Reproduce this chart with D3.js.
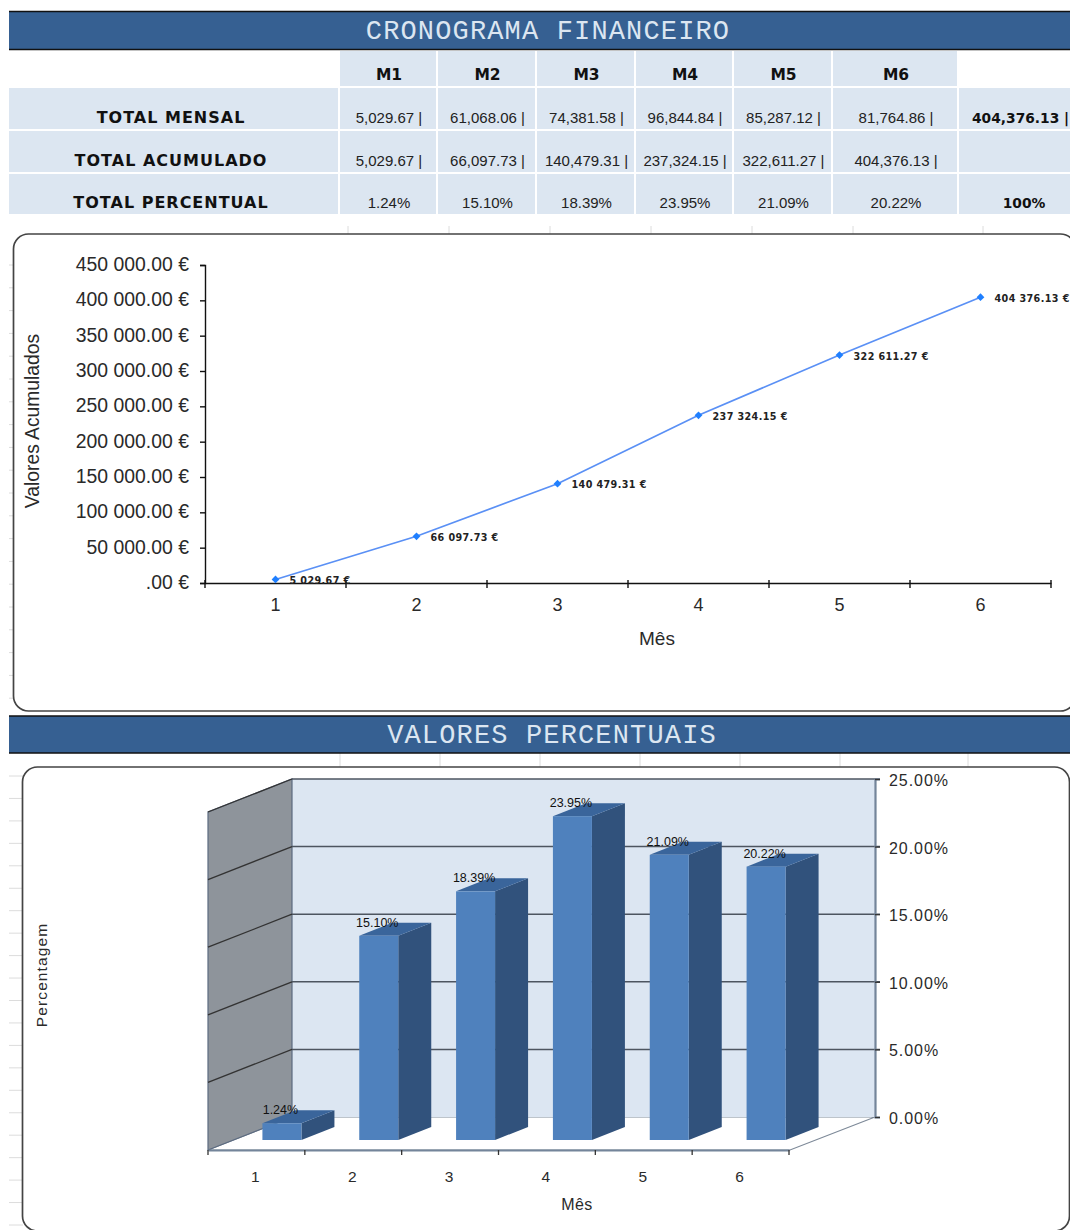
<!DOCTYPE html>
<html><head><meta charset="utf-8">
<script src="https://cdnjs.cloudflare.com/ajax/libs/d3/7.8.5/d3.min.js"></script>
<style>html,body{margin:0;padding:0;background:#fff;overflow:hidden}svg{display:block}text{font-family:"Liberation Sans",Arial,sans-serif}</style>
</head><body><svg id="c" width="1070" height="1230"></svg>
<script>
const months = [1,2,3,4,5,6];
const monthHeaders = ["M1","M2","M3","M4","M5","M6"];
const rowLabels = ["TOTAL MENSAL","TOTAL ACUMULADO","TOTAL PERCENTUAL"];
const totalMensal = ["5,029.67 |","61,068.06 |","74,381.58 |","96,844.84 |","85,287.12 |","81,764.86 |"];
const totalAcumulado = ["5,029.67 |","66,097.73 |","140,479.31 |","237,324.15 |","322,611.27 |","404,376.13 |"];
const totalPercentual = ["1.24%","15.10%","18.39%","23.95%","21.09%","20.22%"];
const grandTotals = ["404,376.13 |","","100%"];
const accumulated = [5029.67,66097.73,140479.31,237324.15,322611.27,404376.13];
const percentages = [1.24,15.10,18.39,23.95,21.09,20.22];
const titleTop = "CRONOGRAMA FINANCEIRO";
const titleBottom = "VALORES PERCENTUAIS";
const accTicks = d3.range(0,450001,50000);
const pctTicks = [0,5,10,15,20,25];

const svg = d3.select("#c");
const ink = "#2a2a2a";
const cellBg = "#dce6f1", headBg = "#366092";

// faint spreadsheet remnants
const faint = svg.append("g").attr("stroke","#dcdcdc").attr("stroke-width",1);
d3.range(265,710,22.8).forEach(y=>faint.append("line").attr("x1",9).attr("x2",14).attr("y1",y).attr("y2",y));
d3.range(776,1230,22.45).forEach(y=>faint.append("line").attr("x1",9).attr("x2",23).attr("y1",y).attr("y2",y));
[348,449,550,651,752,853,983].forEach(x=>faint.append("line").attr("x1",x).attr("x2",x).attr("y1",226).attr("y2",234));
[340,440,540,640,740,840,968].forEach(x=>faint.append("line").attr("x1",x).attr("x2",x).attr("y1",753).attr("y2",767));

function banner(y0,y1,title,cx){
  svg.append("rect").attr("x",9).attr("y",y0).attr("width",1061).attr("height",y1-y0).attr("fill",headBg);
  svg.append("line").attr("x1",9).attr("x2",1070).attr("y1",y0).attr("y2",y0).attr("stroke","#111").attr("stroke-width",1.4);
  svg.append("line").attr("x1",9).attr("x2",1070).attr("y1",y1).attr("y2",y1).attr("stroke","#111").attr("stroke-width",1.4);
  svg.append("text").attr("x",cx).attr("y",(y0+y1)/2+8.5).attr("text-anchor","middle")
    .style("font-family",'"Liberation Mono",monospace').style("font-size","27px").style("letter-spacing","1.15px")
    .attr("fill","#dce6f1").text(title);
}
banner(11.5,49.5,titleTop,548);
banner(716,753,titleBottom,552);

// table
const colX = [[340,436],[438,535],[537,634],[636,732],[734,831],[833,957]];
const totalCol = [959,1070];
const rowY = [[88,129],[131,172],[174,214]];
const rowData = [totalMensal,totalAcumulado,totalPercentual];
const bold = "'DejaVu Sans',sans-serif";
const tbl = svg.append("g");
function cell(a,b,c,d){tbl.append("rect").attr("x",a).attr("y",c).attr("width",b-a).attr("height",d-c).attr("fill",cellBg);}
colX.forEach((c,i)=>{
  cell(c[0],c[1],51,86);
  tbl.append("text").attr("x",(c[0]+c[1])/2+1).attr("y",80).attr("text-anchor","middle").attr("fill","#111")
    .style("font-family",bold).style("font-weight","bold").style("font-size","15.5px").text(monthHeaders[i]);
});
rowY.forEach((r,j)=>{
  cell(9,338,r[0],r[1]);
  tbl.append("text").attr("x",171).attr("y",r[1]-6).attr("text-anchor","middle").attr("fill","#111")
    .style("font-family",bold).style("font-weight","bold").style("font-size","16px").style("letter-spacing","1px").text(rowLabels[j]);
  colX.forEach((c,i)=>{
    cell(c[0],c[1],r[0],r[1]);
    tbl.append("text").attr("x",(c[0]+c[1])/2+1).attr("y",r[1]-6).attr("text-anchor","middle").attr("fill","#222")
      .style("font-size","15px").text(rowData[j][i]);
  });
  cell(totalCol[0],totalCol[1],r[0],r[1]);
  tbl.append("text").attr("x",j==2?1024:972).attr("y",r[1]-6).attr("text-anchor",j==2?"middle":"start").attr("fill","#111")
    .style("font-family",bold).style("font-weight","bold").style("font-size","13.8px").text(grandTotals[j]);
});

// line chart frame
svg.append("rect").attr("x",13.5).attr("y",234).attr("width",1062).attr("height",477).attr("rx",15)
  .attr("fill","#fff").attr("stroke","#444").attr("stroke-width",1.7);

const xL = d3.scaleBand().domain(months).range([205,1051]);
const yL = d3.scaleLinear().domain([0,450000]).range([583,265]);
const fmtAcc = d3.formatLocale({decimal:".",thousands:" ",grouping:[3],currency:["","€"]}).format(",.2f");
const euro = v => v===0 ? ".00 €" : fmtAcc(v)+" €";

const gY = svg.append("g").attr("transform","translate(205,0)")
  .call(d3.axisLeft(yL).tickValues(accTicks).tickSize(5).tickPadding(11).tickFormat(euro));
gY.select(".domain").attr("stroke","#111").attr("stroke-width",1.4);
gY.selectAll("line").attr("stroke","#111").attr("stroke-width",1.4);
gY.selectAll("text").style("font-size","19.4px").attr("fill",ink).attr("dy","0.28em");

const gX = svg.append("g").attr("transform","translate(0,583)")
  .call(d3.axisBottom(xL).tickSize(0).tickPadding(15));
gX.select(".domain").attr("stroke","#111").attr("stroke-width",1.4);
gX.selectAll("text").style("font-size","18px").attr("fill",ink);
d3.range(0,months.length+1).forEach(i=>{
  const x = xL.range()[0]+i*xL.step();
  gX.append("line").attr("x1",x).attr("x2",x).attr("y1",-3).attr("y2",5).attr("stroke","#111").attr("stroke-width",1.4);
});

svg.append("path").datum(accumulated)
  .attr("d",d3.line().x((d,i)=>xL(months[i])+xL.bandwidth()/2).y(d=>yL(d)))
  .attr("fill","none").attr("stroke","#5a90f5").attr("stroke-width",1.7);
svg.append("g").selectAll("path").data(accumulated).join("path")
  .attr("d",d3.symbol(d3.symbolSquare,30))
  .attr("transform",(d,i)=>`translate(${xL(months[i])+xL.bandwidth()/2},${yL(d)}) rotate(45)`)
  .attr("fill","#1f7fff");
svg.append("g").selectAll("text").data(accumulated).join("text")
  .attr("x",(d,i)=>xL(months[i])+xL.bandwidth()/2+14)
  .attr("y",d=>yL(d)+4.5)
  .style("font-family",bold).style("font-weight","bold").style("font-size","9.6px").style("letter-spacing","0.4px").attr("fill","#222")
  .text(d=>euro(d));

svg.append("text").attr("transform","translate(39,421) rotate(-90)").attr("text-anchor","middle")
  .style("font-size","19.3px").attr("fill",ink).text("Valores Acumulados");
svg.append("text").attr("x",657).attr("y",645).attr("text-anchor","middle")
  .style("font-size","19px").attr("fill",ink).text("Mês");

// 3D bar chart frame
svg.append("rect").attr("x",22.5).attr("y",767).attr("width",1047).attr("height",464).attr("rx",15)
  .attr("fill","#fff").attr("stroke","#444").attr("stroke-width",1.7);

const depthX = 84, depthY = 33;       // wall depth
const barDX = 33, barDY = 13;         // bar depth
const xB = d3.scaleBand().domain(months).range([208,789]);
const yWall = d3.scaleLinear().domain([0,25]).range([1150,812]); // front plane
const barBase = 1140, barShift = 25.5, barW = 39;
const yBar = d3.scaleLinear().domain([0,25]).range([barBase,barBase-338]);
const backX0 = xB.range()[0]+depthX, backX1 = xB.range()[1]+depthX+2;

const b = svg.append("g");
b.append("path").attr("d",`M208,1150 L${backX0},${yWall(0)-depthY} L${backX1},${yWall(0)-depthY} L${xB.range()[1]+1},1150 Z`)
  .attr("fill","#fff").attr("stroke","#7d8998").attr("stroke-width",1.2);
b.append("rect").attr("x",backX0).attr("y",yWall(25)-depthY).attr("width",backX1-backX0).attr("height",yWall(0)-yWall(25))
  .attr("fill","#dce6f2");
b.append("path").attr("d",`M208,${yWall(0)} L${backX0},${yWall(0)-depthY} L${backX0},${yWall(25)-depthY} L208,${yWall(25)} Z`)
  .attr("fill","#8e949b").attr("stroke","#5c6b80").attr("stroke-width",1.2);
pctTicks.forEach(t=>{
  if(t>0) b.append("line").attr("x1",backX0).attr("x2",backX1+5).attr("y1",yWall(t)-depthY).attr("y2",yWall(t)-depthY).attr("stroke","#4d5560").attr("stroke-width",1.5);
  if(t>0) b.append("line").attr("x1",208).attr("x2",backX0).attr("y1",yWall(t)).attr("y2",yWall(t)-depthY).attr("stroke","#333").attr("stroke-width",1.3);
});
const yRight = d3.scaleLinear().domain([0,25]).range([yWall(0)-depthY,yWall(25)-depthY]);
const gR = svg.append("g").attr("transform",`translate(${backX1},0)`)
  .call(d3.axisRight(yRight).tickValues(pctTicks).tickSize(5).tickPadding(9).tickFormat(d=>d3.format(".2f")(d)+"%"));
gR.select(".domain").attr("stroke","#74859a").attr("stroke-width",2.2);
gR.selectAll("line").attr("stroke","#333").attr("stroke-width",1.3);
gR.selectAll("text").style("font-size","16px").style("letter-spacing","0.95px").attr("fill",ink).attr("dy","0.4em");

const bars = svg.append("g").selectAll("g").data(percentages).join("g");
bars.each(function(d,i){
  const g = d3.select(this);
  const x0 = xB(months[i])+xB.bandwidth()/2+barShift-barW/2, x1 = x0+barW, yT = yBar(d);
  g.append("path").attr("d",`M${x1},${barBase} L${x1+barDX},${barBase-barDY} L${x1+barDX},${yT-barDY} L${x1},${yT} Z`).attr("fill","#31527c");
  g.append("path").attr("d",`M${x0},${yT} L${x0+barDX},${yT-barDY} L${x1+barDX},${yT-barDY} L${x1},${yT} Z`).attr("fill","#3a659b");
  g.append("rect").attr("x",x0).attr("y",yT).attr("width",barW).attr("height",barBase-yT).attr("fill","#4f81bd");
});
svg.append("g").selectAll("text").data(percentages).join("text")
  .attr("x",(d,i)=>xB(months[i])+xB.bandwidth()/2+barShift-1.5)
  .attr("y",d=>yBar(d)-barDY+4)
  .attr("text-anchor","middle").style("font-size","12.5px").attr("fill","#111")
  .text(d=>d3.format(".2f")(d)+"%");

const gF = svg.append("g").attr("transform","translate(0,1150)")
  .call(d3.axisBottom(xB).tickSize(0).tickPadding(21));
gF.select(".domain").attr("stroke","#74859a").attr("stroke-width",1.8);
gF.selectAll("text").style("font-size","15.5px").attr("fill",ink).attr("dx","-1px");
d3.range(0,months.length+1).forEach(i=>{
  const x = xB.range()[0]+i*xB.step();
  gF.append("line").attr("x1",x).attr("x2",x).attr("y1",0).attr("y2",5).attr("stroke","#333").attr("stroke-width",1.3);
});

svg.append("text").attr("transform","translate(47,975) rotate(-90)").attr("text-anchor","middle")
  .style("font-size","15.5px").style("letter-spacing","1.1px").attr("fill",ink).text("Percentagem");
svg.append("text").attr("x",577).attr("y",1210).attr("text-anchor","middle")
  .style("font-size","16px").style("letter-spacing","0.5px").attr("fill",ink).text("Mês");
</script></body></html>
